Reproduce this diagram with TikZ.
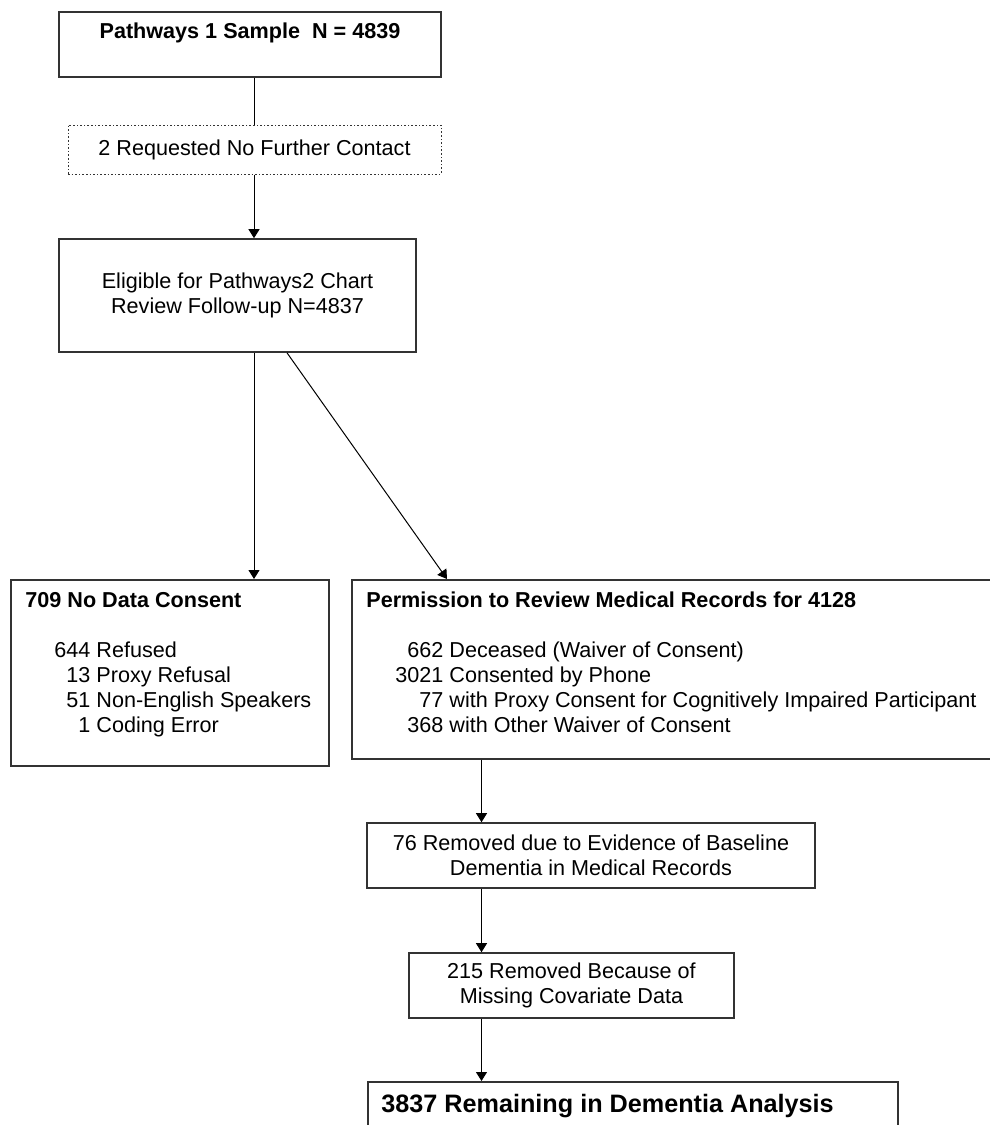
\documentclass[tikz,border=0pt]{standalone}
\usepackage{fontspec}
\setmainfont{Liberation Sans}
\usetikzlibrary{arrows.meta}
\newcommand{\flowfont}{\fontsize{10.8pt}{12.5pt}\selectfont}
\newcommand{\bigflowfont}{\fontsize{12.6pt}{15pt}\selectfont}

\begin{document}
\begin{tikzpicture}[x=0.5pt, y=-0.5pt,
    box/.style={draw=black!80, line width=0.8pt, rectangle, inner sep=0pt, font=\flowfont, align=center},
    lbl/.style={inner sep=0pt, font=\flowfont, anchor=base west},
    arr/.style={-{Triangle[length=4.5pt, width=5.5pt]}, line width=0.5pt}]
    \clip (0,0) rectangle (990,1125);
    % Caixas de cima
    \node[box, minimum width=191pt, minimum height=32.5pt] (sample) at (250,44.5) {};
    \node[lbl, anchor=base] (sample-t) at ([yshift=-13.85pt]sample.north) {\bfseries Pathways 1 Sample\ \ N = 4839};
    \node[box, densely dotted, line width=0.5pt, minimum width=186.5pt, minimum height=24.5pt] (nocontact) at (254.5,149.5) {2 Requested No Further Contact};
    \node[box, minimum width=178.5pt, minimum height=56.5pt] (eligible) at (237.5,295.5) {Eligible for Pathways2 Chart\\Review Follow-up N=4837};
    % Consentimento
    \node[box, minimum width=159pt, minimum height=93pt, anchor=north west] (nocons) at (10,579) {};
    \node[lbl] (nocons-t) at ([shift={(15,28.7)}]nocons.north west) {%
        \begin{tabular}[t]{@{\hspace{14.5pt}}r@{\hspace{3pt}}l@{}}
            \multicolumn{2}{@{}l@{}}{\bfseries 709 No Data Consent}\\[12.5pt]
            644 & Refused\\
            13 & Proxy Refusal\\
            51 & Non-English Speakers\\
            1 & Coding Error
        \end{tabular}};
    \node[box, minimum width=324.5pt, minimum height=89.5pt, anchor=north west] (permit) at (351,579) {};
    \node[lbl] (permit-t) at ([shift={(15,28.7)}]permit.north west) {%
        \begin{tabular}[t]{@{\hspace{14.5pt}}r@{\hspace{3pt}}l@{}}
            \multicolumn{2}{@{}l@{}}{\bfseries Permission to Review Medical Records for 4128}\\[12.5pt]
            662 & Deceased (Waiver of Consent)\\
            3021 & Consented by Phone\\
            77 & with Proxy Consent for Cognitively Impaired Participant\\
            368 & with Other Waiver of Consent
        \end{tabular}};
    % Exclusoes
    \node[box, minimum width=224pt, minimum height=32.5pt] (baseline) at (591,855.5) {76 Removed due to Evidence of Baseline\\Dementia in Medical Records};
    \node[box, minimum width=162.5pt, minimum height=32.5pt] (covar) at (571.5,985.5) {215 Removed Because of\\Missing Covariate Data};
    \node[box, minimum width=265pt, minimum height=40pt, anchor=north west] (remain) at (367,1081) {};
    \node[lbl, font=\bigflowfont] (remain-t) at ([shift={(14,31)}]remain.north west) {\bfseries 3837 Remaining in Dementia Analysis};
    % Setas
    \coordinate (spine) at (254,0);
    \coordinate (trunk) at (481.5,0);
    \draw[line width=0.5pt] (spine |- sample.south) -- (spine |- nocontact.north);
    \draw[arr] (spine |- nocontact.south) -- (spine |- eligible.north);
    \draw[arr] (spine |- eligible.south) -- (spine |- nocons.north);
    \draw[arr] ([xshift=24.75pt]eligible.south) -- ([xshift=48pt]permit.north west);
    \foreach \a/\b in {permit/baseline, baseline/covar, covar/remain}
        \draw[arr] (trunk |- \a.south) -- (trunk |- \b.north);
\end{tikzpicture}
\end{document}
